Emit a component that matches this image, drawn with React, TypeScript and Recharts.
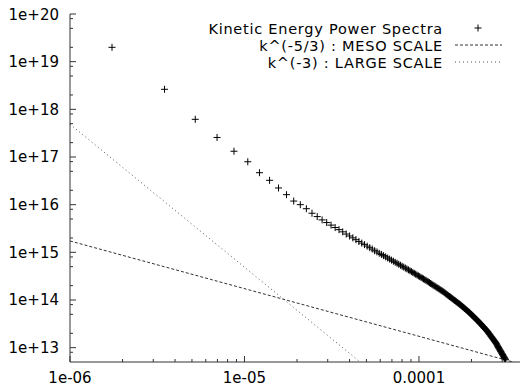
import React from 'react';
import { ComposedChart, Scatter, Line, XAxis, YAxis } from 'recharts';

// ---------- data ----------
// wavenumber spacing of the spectrum (k_n = n * step)
const WAVENUMBER_STEP = 1.741e-6;

// kinetic energy power spectrum values, n = 1 .. 180
const SPECTRUM_ENERGY: number[] = [
  2.0e19, 2.63e18, 6.17e17, 2.57e17, 1.32e17, 7.94e16, 4.68e16, 3.24e16, 2.24e16, 1.62e16,
  1.19e16, 1.0e16, 8.22e15, 6.61e15, 5.62e15, 4.79e15, 4.21e15, 3.72e15, 3.31e15, 2.99e15,
  2.69e15, 2.42e15, 2.2e15, 2.01e15, 1.84e15, 1.69e15, 1.56e15, 1.45e15, 1.35e15, 1.25e15,
  1.17e15, 1.08e15, 1.02e15, 9.55e14, 9.02e14, 8.51e14, 8.04e14, 7.6e14, 7.21e14, 6.85e14,
  6.5e14, 6.18e14, 5.89e14, 5.61e14, 5.35e14, 5.11e14, 4.89e14, 4.68e14, 4.48e14, 4.29e14,
  4.1e14, 3.94e14, 3.78e14, 3.62e14, 3.48e14, 3.34e14, 3.21e14, 3.1e14, 2.98e14, 2.87e14,
  2.77e14, 2.67e14, 2.58e14, 2.48e14, 2.39e14, 2.31e14, 2.22e14, 2.15e14, 2.07e14, 2.0e14,
  1.94e14, 1.87e14, 1.81e14, 1.75e14, 1.7e14, 1.64e14, 1.59e14, 1.55e14, 1.5e14, 1.45e14,
  1.4e14, 1.35e14, 1.31e14, 1.26e14, 1.22e14, 1.18e14, 1.15e14, 1.11e14, 1.08e14, 1.04e14,
  1.01e14, 9.79e13, 9.51e13, 9.23e13, 8.95e13, 8.71e13, 8.45e13, 8.22e13, 7.98e13, 7.76e13,
  7.52e13, 7.28e13, 7.06e13, 6.85e13, 6.64e13, 6.44e13, 6.25e13, 6.07e13, 5.89e13, 5.73e13,
  5.56e13, 5.41e13, 5.24e13, 5.07e13, 4.91e13, 4.76e13, 4.61e13, 4.48e13, 4.35e13, 4.22e13,
  4.09e13, 3.97e13, 3.85e13, 3.75e13, 3.64e13, 3.53e13, 3.43e13, 3.32e13, 3.22e13, 3.12e13,
  3.03e13, 2.94e13, 2.84e13, 2.77e13, 2.69e13, 2.61e13, 2.53e13, 2.45e13, 2.39e13, 2.32e13,
  2.25e13, 2.18e13, 2.11e13, 2.03e13, 1.96e13, 1.9e13, 1.84e13, 1.77e13, 1.71e13, 1.66e13,
  1.6e13, 1.55e13, 1.5e13, 1.46e13, 1.41e13, 1.36e13, 1.32e13, 1.28e13, 1.23e13, 1.19e13,
  1.14e13, 1.09e13, 1.05e13, 1.01e13, 9.72e12, 9.35e12, 9.02e12, 8.67e12, 8.34e12, 8.04e12,
  7.74e12, 7.46e12, 7.19e12, 6.93e12, 6.68e12, 6.44e12, 6.21e12, 5.98e12, 5.77e12, 5.57e12,
];

// reference power-law lines (end points)
const MESO_LINE_K = [1e-6, 4e-4];
const MESO_LINE_E = [1.73e15, 4.33e12];
const LARGE_LINE_K = [1e-6, 4e-4];
const LARGE_LINE_E = [4.87e17, 7.6e9];

// axes
const X_DOMAIN = [1e-6, 4e-4];
const Y_DOMAIN = [5e12, 1e20];
const X_MAJOR = [1e-6, 1e-5, 1e-4];
const X_LABELS = ['1e-06', '1e-05', '0.0001'];
const X_MINOR_MULT = [2, 3, 4, 5, 6, 7, 8, 9];
const Y_MAJOR = [1e13, 1e14, 1e15, 1e16, 1e17, 1e18, 1e19, 1e20];
const Y_LABELS = ['1e+13', '1e+14', '1e+15', '1e+16', '1e+17', '1e+18', '1e+19', '1e+20'];
const Y_MINOR_MULT = [2, 5, 8];

// legend
const LEGEND_LABELS = [
  'Kinetic Energy Power Spectra',
  'k^(-5/3) : MESO SCALE',
  'k^(-3) : LARGE SCALE',
];

// ---------- derived tables ----------
const spectrum = SPECTRUM_ENERGY.map((e, i) => ({ k: (i + 1) * WAVENUMBER_STEP, e }));
const mesoLine = MESO_LINE_K.map((k, i) => ({ k, e: MESO_LINE_E[i] }));
const largeLine = LARGE_LINE_K.map((k, i) => ({ k, e: LARGE_LINE_E[i] }));

const buildTicks = (majors: number[], mults: number[], lo: number, hi: number) => {
  const out: number[] = [...majors];
  majors.forEach((m) => {
    [m / 10, m].forEach((base) => {
      mults.forEach((mu) => {
        const v = base * mu;
        if (v > lo * 1.0001 && v < hi * 0.9999) out.push(v);
      });
    });
  });
  return Array.from(new Set(out.map((v) => Number(v.toPrecision(6))))).sort((a, b) => a - b);
};
const X_TICKS = buildTicks(X_MAJOR, X_MINOR_MULT, X_DOMAIN[0], X_DOMAIN[1]);
const Y_TICKS = buildTicks(Y_MAJOR, Y_MINOR_MULT, Y_DOMAIN[0], Y_DOMAIN[1]);

const majorIndex = (v: number, majors: number[]) =>
  majors.findIndex((m) => Math.abs(Math.log10(v) - Math.log10(m)) < 1e-6);

const FONT = '"DejaVu Sans", Verdana, sans-serif';
const AXIS_COLOR = '#333';
const MAJOR_LEN = 6;
const MINOR_LEN = 3;

const LeftTick = (p: any) => {
  const idx = majorIndex(p.payload.value, Y_MAJOR);
  const len = idx >= 0 ? MAJOR_LEN : MINOR_LEN;
  return (
    <g>
      <line x1={p.x} x2={p.x + len} y1={p.y} y2={p.y} stroke={AXIS_COLOR} strokeWidth={1} />
      {idx >= 0 && (
        <text x={p.x - 11} y={p.y + 5.5} textAnchor="end" fontFamily={FONT} fontSize={15} fill="#000">
          {Y_LABELS[idx]}
        </text>
      )}
    </g>
  );
};
const RightTick = (p: any) => {
  const idx = majorIndex(p.payload.value, Y_MAJOR);
  const len = idx >= 0 ? MAJOR_LEN : MINOR_LEN;
  return <line x1={p.x} x2={p.x - len} y1={p.y} y2={p.y} stroke={AXIS_COLOR} strokeWidth={1} />;
};
const BottomTick = (p: any) => {
  const idx = majorIndex(p.payload.value, X_MAJOR);
  const len = idx >= 0 ? MAJOR_LEN : MINOR_LEN;
  return (
    <g>
      <line x1={p.x} x2={p.x} y1={p.y} y2={p.y - len} stroke={AXIS_COLOR} strokeWidth={1} />
      {idx >= 0 && (
        <text x={p.x} y={p.y + 21} textAnchor="middle" fontFamily={FONT} fontSize={15} fill="#000">
          {X_LABELS[idx]}
        </text>
      )}
    </g>
  );
};
const TopTick = (p: any) => {
  const idx = majorIndex(p.payload.value, X_MAJOR);
  const len = idx >= 0 ? MAJOR_LEN : MINOR_LEN;
  return <line x1={p.x} x2={p.x} y1={p.y} y2={p.y + len} stroke={AXIS_COLOR} strokeWidth={1} />;
};

const Cross = (p: any) => {
  const { cx, cy } = p;
  if (cx == null || cy == null) return null;
  return (
    <path
      d={`M${cx - 3.5},${cy}H${cx + 3.5}M${cx},${cy - 3.5}V${cy + 3.5}`}
      stroke="#000"
      strokeWidth={1}
      fill="none"
    />
  );
};

const LEGEND_TEXT_STYLE = { letterSpacing: '0.75px' };

const LegendOverlay = () => (
  <svg width={520} height={80} style={{ position: 'absolute', left: 0, top: 0 }}>
    <text x={443} y={33.5} textAnchor="end" fontFamily={FONT} fontSize={14.5} fill="#000" style={LEGEND_TEXT_STYLE}>
      {LEGEND_LABELS[0]}
    </text>
    <path d="M474.5,28H481.5M478,24.5V31.5" stroke="#000" strokeWidth={1} />
    <text x={443} y={50.5} textAnchor="end" fontFamily={FONT} fontSize={14.5} fill="#000" style={LEGEND_TEXT_STYLE}>
      {LEGEND_LABELS[1]}
    </text>
    <line x1={455} x2={502} y1={45} y2={45} stroke="#333" strokeWidth={1} strokeDasharray="3 2" />
    <text x={443} y={67.5} textAnchor="end" fontFamily={FONT} fontSize={14.5} fill="#000" style={LEGEND_TEXT_STYLE}>
      {LEGEND_LABELS[2]}
    </text>
    <line x1={455} x2={502} y1={62} y2={62} stroke="#555" strokeWidth={1} strokeDasharray="1 3" />
  </svg>
);

export default function App() {
  return (
    <div
      style={{
        position: 'absolute',
        left: 0,
        top: 0,
        width: 520,
        height: 388,
        overflow: 'hidden',
        background: '#fff',
      }}
    >
      <ComposedChart width={524} height={388} margin={{ top: 14, right: 0, bottom: 0, left: 0 }}>
        <XAxis
          xAxisId="b"
          dataKey="k"
          type="number"
          scale="log"
          domain={X_DOMAIN}
          allowDataOverflow
          ticks={X_TICKS}
          interval={0}
          orientation="bottom"
          height={26}
          tickSize={0}
          tickMargin={0}
          tickLine={false}
          tick={(p: any) => <BottomTick {...p} />}
          axisLine={{ stroke: AXIS_COLOR, strokeWidth: 1 }}
        />
        <XAxis
          xAxisId="t"
          dataKey="k"
          type="number"
          scale="log"
          domain={X_DOMAIN}
          allowDataOverflow
          ticks={X_TICKS}
          interval={0}
          orientation="top"
          height={0}
          tickSize={0}
          tickMargin={0}
          tickLine={false}
          tick={(p: any) => <TopTick {...p} />}
          axisLine={{ stroke: AXIS_COLOR, strokeWidth: 1 }}
        />
        <YAxis
          yAxisId="l"
          type="number"
          scale="log"
          domain={Y_DOMAIN}
          allowDataOverflow
          ticks={Y_TICKS}
          interval={0}
          orientation="left"
          width={70}
          tickSize={0}
          tickMargin={0}
          tickLine={false}
          tick={(p: any) => <LeftTick {...p} />}
          axisLine={{ stroke: AXIS_COLOR, strokeWidth: 1 }}
        />
        <YAxis
          yAxisId="r"
          type="number"
          scale="log"
          domain={Y_DOMAIN}
          allowDataOverflow
          ticks={Y_TICKS}
          interval={0}
          orientation="right"
          width={0}
          tickSize={0}
          tickMargin={0}
          tickLine={false}
          tick={(p: any) => <RightTick {...p} />}
          axisLine={{ stroke: AXIS_COLOR, strokeWidth: 1 }}
        />
        <Line
          xAxisId="b"
          yAxisId="l"
          data={mesoLine}
          dataKey="e"
          type="linear"
          stroke="#333"
          strokeWidth={1}
          strokeDasharray="3 2"
          dot={false}
          activeDot={false}
          isAnimationActive={false}
        />
        <Line
          xAxisId="b"
          yAxisId="l"
          data={largeLine}
          dataKey="e"
          type="linear"
          stroke="#555"
          strokeWidth={1}
          strokeDasharray="1 3"
          dot={false}
          activeDot={false}
          isAnimationActive={false}
        />
        <Scatter
          xAxisId="b"
          yAxisId="l"
          data={spectrum}
          dataKey="e"
          shape={(p: any) => <Cross {...p} />}
          isAnimationActive={false}
        />
      </ComposedChart>
      <LegendOverlay />
    </div>
  );
}
